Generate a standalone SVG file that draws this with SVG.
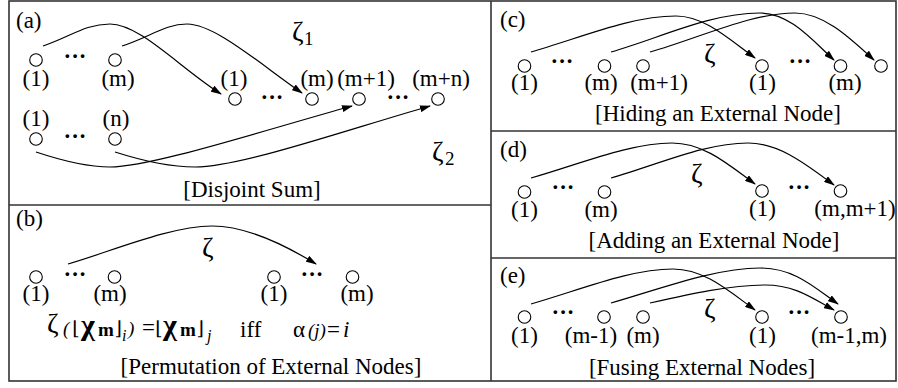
<svg xmlns="http://www.w3.org/2000/svg" width="898" height="388" viewBox="0 0 898 388">
<defs>
<marker id="ah" markerWidth="11" markerHeight="7" refX="10" refY="3.5" orient="auto" markerUnits="userSpaceOnUse"><path d="M0,0 L11,3.5 L0,7 z" fill="#000"/></marker>
</defs>
<style>
.t{font-family:"Liberation Serif","Times New Roman",serif;font-size:23px;fill:#000}
.c{text-anchor:middle}
.n{fill:#fff;stroke:#000;stroke-width:1.1}
.e{fill:none;stroke:#000;stroke-width:1.2;marker-end:url(#ah)}
.f{fill:none;stroke:#333;stroke-width:1.6}
.d{font-weight:bold}
.z{font-size:28px}
.s{font-size:19px}
.i{font-style:italic}
.m{font-family:"DejaVu Serif",serif}
.x{font-weight:bold;font-size:30px}
</style>
<rect width="898" height="388" fill="#fff"/>
<g id="frame" class="f">
<rect x="9" y="1" width="887" height="380"/>
<line x1="491" y1="1" x2="491" y2="381"/>
<line x1="9" y1="205" x2="491" y2="205"/>
<line x1="491" y1="131" x2="896" y2="131"/>
<line x1="491" y1="258" x2="896" y2="258"/>
</g>
<g id="connectors">
<path class="e" d="M43,46 C70,37 85,24 110,24 C140,24 180,68 221,94"/>
<path class="e" d="M122,46 C150,37 165,24 187,24 C215,24 260,64 302,93"/>
<path class="e" d="M36,152 C60,160 85,167 110,167 C150,167 255,133 352,106"/>
<path class="e" d="M115,152 C140,160 170,167 195,167 C240,167 340,132 430,106"/>
<path class="e" d="M68,264 C110,252 170,226 212,226 C245,226 285,245 316,264"/>
<path class="e" d="M531,52 C580,38 630,16 676,16 C705,16 730,40 755,58"/>
<path class="e" d="M611,52 C660,38 710,13 760,13 C790,13 812,40 834,60"/>
<path class="e" d="M650,52 C700,38 750,13 795,13 C825,13 852,40 874,60"/>
<path class="e" d="M531,178 C580,164 630,143 672,143 C705,143 730,166 755,184"/>
<path class="e" d="M611,178 C660,164 705,143 748,143 C780,143 808,166 834,185"/>
<path class="e" d="M531,304 C580,290 630,269 673,269 C705,269 730,292 755,310"/>
<path class="e" d="M611,303 C660,289 715,268 760,268 C795,268 815,288 838,304"/>
<path class="e" d="M650,303 C690,294 730,285 765,285 C795,285 812,298 834,310"/>
</g>
<g id="labels" class="t">
<text x="16" y="28">(a)</text>
<text x="16" y="226">(b)</text>
<text x="500" y="27">(c)</text>
<text x="500" y="157">(d)</text>
<text x="500" y="283">(e)</text>
<text class="c" x="252" y="197">[Disjoint Sum]</text>
<text class="c" x="271" y="374">[Permutation of External Nodes]</text>
<text class="c" x="718" y="121">[Hiding an External Node]</text>
<text class="c" x="714" y="248">[Adding an External Node]</text>
<text class="c" x="702" y="375">[Fusing External Nodes]</text>
<text class="z" x="292" y="41">ζ</text><text class="s" x="304" y="45">1</text>
<text class="z" x="432" y="161">ζ</text><text class="s" x="445" y="165">2</text>
<text class="z" x="202" y="257">ζ</text>
<text class="z" x="704" y="63">ζ</text>
<text class="z" x="691" y="183">ζ</text>
<text class="z" x="704" y="318">ζ</text>
<g class="d c">
<text x="75" y="64">···</text>
<text x="75" y="144">···</text>
<text x="272" y="105">···</text>
<text x="398" y="105">···</text>
<text x="75" y="282">···</text>
<text x="312" y="282">···</text>
<text x="562" y="69">···</text>
<text x="800" y="69">···</text>
<text x="563" y="195">···</text>
<text x="799" y="195">···</text>
<text x="563" y="320">···</text>
<text x="799" y="320">···</text>
</g>
</g>
<g id="formula" class="t">
<text class="z" x="47" y="333">ζ</text>
<text class="i s" x="63" y="335">(</text>
<text class="m s" x="72" y="335">⌊</text>
<text class="x" x="81" y="335">χ</text>
<text class="d s" x="98" y="336">m</text>
<text class="m s" x="114.5" y="335">⌋</text>
<text class="i" style="font-size:16px" x="122" y="341">i</text>
<text class="i s" x="128" y="335">)</text>
<text x="142" y="335">=</text>
<text class="m s" x="155" y="335">⌊</text>
<text class="x" x="163" y="335">χ</text>
<text class="d s" x="180" y="336">m</text>
<text class="m s" x="196.5" y="335">⌋</text>
<text class="i" style="font-size:16px" x="207" y="341">j</text>
<text x="240" y="337">iff</text>
<text x="293" y="337">α</text>
<text class="i s" x="308" y="337">(j)</text>
<text x="327" y="337">=</text>
<text class="i" x="343" y="337">i</text>
</g>
<g id="a-u1"><circle class="n" cx="36" cy="60" r="6.3"/><text class="t c" x="36" y="86">(1)</text></g>
<g id="a-um"><circle class="n" cx="115" cy="60" r="6.3"/><text class="t c" x="118" y="86">(m)</text></g>
<g id="a-l1"><circle class="n" cx="36" cy="139" r="6.3"/><text class="t c" x="36" y="126">(1)</text></g>
<g id="a-ln"><circle class="n" cx="115" cy="139" r="6.3"/><text class="t c" x="116" y="126">(n)</text></g>
<g id="a-r1"><circle class="n" cx="235" cy="99" r="6.3"/><text class="t c" x="234" y="86">(1)</text></g>
<g id="a-rm"><circle class="n" cx="312" cy="99" r="6.3"/><text class="t c" x="317" y="86">(m)</text></g>
<g id="a-rm1"><circle class="n" cx="359" cy="99" r="6.3"/><text class="t c" x="366" y="86">(m+1)</text></g>
<g id="a-rmn"><circle class="n" cx="438" cy="99" r="6.3"/><text class="t c" x="441" y="86">(m+n)</text></g>
<g id="b-l1"><circle class="n" cx="36" cy="277" r="6.3"/><text class="t c" x="36" y="301">(1)</text></g>
<g id="b-lm"><circle class="n" cx="114.5" cy="277" r="6.3"/><text class="t c" x="110" y="301">(m)</text></g>
<g id="b-r1"><circle class="n" cx="274" cy="277" r="6.3"/><text class="t c" x="274" y="301">(1)</text></g>
<g id="b-rm"><circle class="n" cx="352.5" cy="277" r="6.3"/><text class="t c" x="357" y="301">(m)</text></g>
<g id="c-l1"><circle class="n" cx="524.5" cy="66" r="6.3"/><text class="t c" x="524.5" y="90">(1)</text></g>
<g id="c-lm"><circle class="n" cx="604.5" cy="66" r="6.3"/><text class="t c" x="601" y="90">(m)</text></g>
<g id="c-lm1"><circle class="n" cx="643" cy="66" r="6.3"/><text class="t c" x="659" y="90">(m+1)</text></g>
<g id="c-r1"><circle class="n" cx="762" cy="66" r="6.3"/><text class="t c" x="762.5" y="90">(1)</text></g>
<g id="c-rm"><circle class="n" cx="840.5" cy="66" r="6.3"/><text class="t c" x="845" y="90">(m)</text></g>
<g id="c-rx"><circle class="n" cx="881" cy="66" r="6.3"/></g>
<g id="d-l1"><circle class="n" cx="524.5" cy="192" r="6.3"/><text class="t c" x="524.5" y="217">(1)</text></g>
<g id="d-lm"><circle class="n" cx="604.5" cy="192" r="6.3"/><text class="t c" x="601" y="217">(m)</text></g>
<g id="d-r1"><circle class="n" cx="762" cy="191" r="6.3"/><text class="t c" x="762.5" y="216">(1)</text></g>
<g id="d-rm"><circle class="n" cx="840.5" cy="191" r="6.3"/><text class="t c" x="855" y="216">(m,m+1)</text></g>
<g id="e-l1"><circle class="n" cx="524.5" cy="317" r="6.3"/><text class="t c" x="524.5" y="343">(1)</text></g>
<g id="e-lm1"><circle class="n" cx="604" cy="317" r="6.3"/><text class="t c" x="591" y="343">(m-1)</text></g>
<g id="e-lm"><circle class="n" cx="643" cy="317" r="6.3"/><text class="t c" x="643" y="343">(m)</text></g>
<g id="e-r1"><circle class="n" cx="762" cy="317" r="6.3"/><text class="t c" x="762.5" y="343">(1)</text></g>
<g id="e-rm"><circle class="n" cx="841" cy="317" r="6.3"/><text class="t c" x="849" y="343">(m-1,m)</text></g>
</svg>
